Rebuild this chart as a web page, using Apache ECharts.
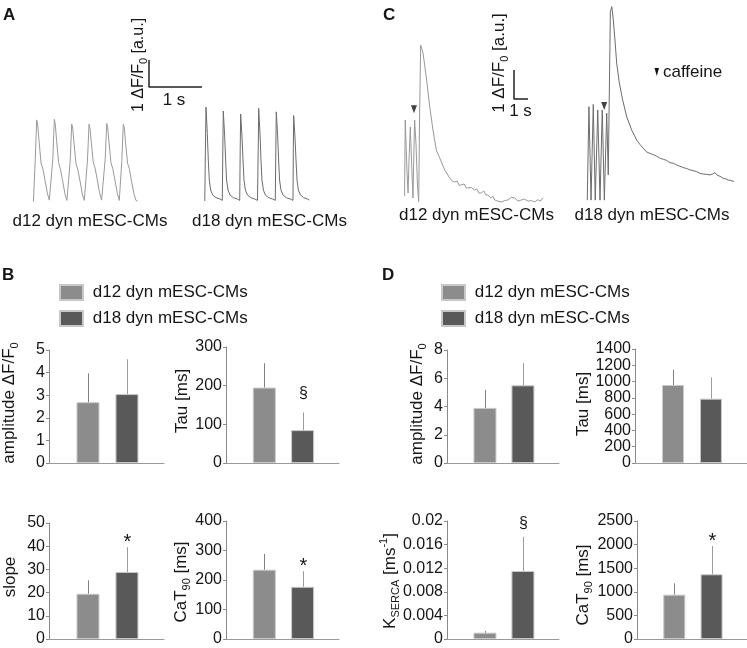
<!DOCTYPE html>
<html><head><meta charset="utf-8">
<script src="https://cdn.jsdelivr.net/npm/echarts@6/dist/echarts.min.js"></script>
<style>html,body{margin:0;padding:0;background:#fff}#c{width:747px;height:648px}</style>
</head><body><div id="c"></div>
<script>
// ---------------- DATA ----------------
const groups = ['d12 dyn mESC-CMs', 'd18 dyn mESC-CMs'];

// Panel B (mean, SD)
const bAmpMean = [2.69, 3.05],   bAmpSD = [1.28, 1.54];
const bTauMean = [195, 85],      bTauSD = [63, 46];
const bSlopeMean = [19.5, 28.9], bSlopeSD = [5.8, 10.7];
const bCaT90Mean = [235, 177],   bCaT90SD = [53, 53];
// Panel D (mean, SD)
const dAmpMean = [3.9, 5.5],        dAmpSD = [1.28, 1.56];
const dTauMean = [958, 790],        dTauSD = [188, 261];
const dKMean = [0.00107, 0.01153],  dKSD = [0.0003, 0.0058];
const dCaT90Mean = [939, 1371],     dCaT90SD = [241, 599];

// significance markers
const bTauSig = ['', '§'], bSlopeSig = ['', '*'], bCaT90Sig = ['', '*'];
const dKSig = ['', '§'], dCaT90Sig = ['', '*'];

// y-axis ticks: [min, max, interval]
const bAmpTicks = [0, 5, 1], bTauTicks = [0, 300, 100], bSlopeTicks = [0, 50, 10], bCaT90Ticks = [0, 400, 100];
const dAmpTicks = [0, 8, 2], dTauTicks = [0, 1400, 200], dKTicks = [0, 0.02, 0.004], dCaT90Ticks = [0, 2500, 500];

// Traces: [time (s), dF/F0]
const traceA_d12 = [
[0.008,0.01],[0.042,1.56],[0.070,3.04],[0.089,2.85],[0.113,2.30],[0.151,1.44],[0.183,1.26],[0.226,0.81],[0.270,0.33],[0.308,0.07],[0.340,0.02],
[0.374,1.60],[0.402,3.06],[0.421,2.87],[0.445,2.28],[0.483,1.46],[0.515,1.24],[0.558,0.80],[0.602,0.31],[0.640,0.06],[0.672,0.02],
[0.702,1.52],[0.730,2.89],[0.749,2.74],[0.774,2.19],[0.811,1.42],[0.843,1.22],[0.887,0.78],[0.930,0.30],[0.968,0.06],[1.000,0.02],
[1.028,1.55],[1.057,2.88],[1.075,2.73],[1.100,2.20],[1.138,1.45],[1.170,1.27],[1.213,0.82],[1.257,0.34],[1.294,0.07],[1.326,0.02],
[1.362,1.58],[1.391,2.91],[1.409,2.76],[1.434,2.22],[1.472,1.44],[1.504,1.25],[1.547,0.80],[1.591,0.32],[1.628,0.06],[1.660,0.02],
[1.675,1.50],[1.704,2.88],[1.723,2.74],[1.747,2.19],[1.785,1.43],[1.817,1.24],[1.857,0.79],[1.904,0.31],[1.942,0.06],[1.974,0.03]
];
const traceA_d18 = [
[0.015,0.04],[0.026,1.93],[0.038,3.51],[0.062,2.54],[0.081,1.56],[0.100,0.81],[0.126,0.44],[0.164,0.26],[0.226,0.16],[0.302,0.11],[0.345,0.06],
[0.355,1.93],[0.364,3.37],[0.389,2.48],[0.408,1.56],[0.426,0.81],[0.453,0.44],[0.491,0.26],[0.553,0.16],[0.628,0.11],[0.674,0.06],
[0.683,1.93],[0.692,3.26],[0.717,2.41],[0.736,1.56],[0.755,0.81],[0.781,0.44],[0.819,0.26],[0.881,0.16],[0.957,0.11],[1.009,0.06],
[1.023,1.93],[1.032,3.47],[1.057,2.52],[1.075,1.56],[1.094,0.81],[1.121,0.44],[1.158,0.26],[1.221,0.16],[1.296,0.11],[1.345,0.06],
[1.355,1.93],[1.364,3.34],[1.389,2.48],[1.408,1.56],[1.426,0.81],[1.453,0.44],[1.491,0.26],[1.553,0.16],[1.628,0.11],[1.679,0.06],
[1.685,1.93],[1.692,3.20],[1.717,2.37],[1.736,1.56],[1.755,0.81],[1.781,0.44],[1.819,0.26],[1.881,0.16],[1.957,0.11],[1.987,0.07]
];
const traceC_d12 = [
[0.04,0.21],[0.09,2.83],[0.21,1.10],[0.29,0.31],[0.36,1.45],[0.45,2.59],[0.55,1.28],[0.64,0.14],[0.71,1.79],[0.76,2.83],[0.86,1.97],[0.96,0.59],
[1.05,0.02],[1.11,2.83],[1.19,5.41],[1.36,5.14],[1.59,4.31],[1.84,3.28],[2.07,2.48],[2.31,1.79],[2.55,1.52],[2.91,1.10],[3.05,1.00],[3.26,0.83],
[3.45,0.72],[3.62,0.69],[3.80,0.72],[3.95,0.57],[4.09,0.59],[4.30,0.62],[4.45,0.48],[4.57,0.52],[4.80,0.50],[5.05,0.41],[5.20,0.45],[5.35,0.31],
[5.52,0.31],[5.70,0.38],[5.85,0.24],[6.00,0.24],[6.20,0.14],[6.35,0.20],[6.48,0.07],[6.70,0.03],[6.95,0.00],[7.20,0.05],[7.43,0.07],[7.65,0.16],
[7.91,0.14],[8.15,0.03],[8.38,0.07],[8.60,0.10],[8.86,0.03],[9.10,0.05],[9.34,0.00],[9.55,0.08],[9.75,0.03],[9.93,0.14]
];
const traceC_d18 = [
[0.09,0.03],[0.21,3.25],[0.36,0.03],[0.52,3.33],[0.66,0.03],[0.84,3.14],[1.00,0.03],[1.16,3.14],[1.31,0.03],[1.48,3.03],[1.59,0.90],[1.64,2.79],
[1.74,6.52],[1.84,6.70],[1.89,6.52],[1.95,6.24],[2.07,5.55],[2.19,4.76],[2.38,4.07],[2.62,3.48],[2.91,2.90],[3.26,2.45],[3.62,2.10],[3.85,1.95],
[4.09,1.82],[4.30,1.70],[4.57,1.64],[4.80,1.60],[5.05,1.55],[5.30,1.47],[5.52,1.44],[5.75,1.40],[6.00,1.32],[6.25,1.30],[6.48,1.24],[6.70,1.20],
[6.95,1.15],[7.20,1.12],[7.43,1.07],[7.65,1.05],[7.91,1.01],[8.15,0.95],[8.38,0.93],[8.60,0.92],[8.86,0.90],[9.05,0.93],[9.21,0.98],[9.35,0.90],
[9.45,0.86],[9.65,0.83],[9.81,0.78],[10.00,0.76],[10.16,0.72],[10.35,0.71],[10.57,0.67]
];
// caffeine application markers [time, level]
const caffeineC_d12 = [[0.71, 3.2]];
const caffeineC_d18 = [[1.30, 3.28]];
// scale bars: 1 s x 1 dF/F0
const scaleBar = [[0, 1], [0, 0], [1, 0]];

// ---------------- STYLE / LAYOUT ----------------
const FONT = '"Liberation Sans", Arial, Helvetica, sans-serif';
const TXT = '#161616';
const BAR_COLORS = ['#8c8c8c', '#595959'];
const ERR_COLORS = ['#808080', '#9c9c9c'];
const X_MAX = 2.95;
const A_PX_S = 53, A_PX_U = 27;
const C_PX_S = 14, C_PX_U = 29;

const grids = [], xAxes = [], yAxes = [], series = [];

function addTraceGrid(left, baseY, pxS, pxU, xMax, yMax) {
  const idx = grids.length;
  grids.push({left: left, top: baseY - yMax * pxU, width: xMax * pxS, height: yMax * pxU, outerBoundsMode: 'none', containLabel: false});
  xAxes.push({gridIndex: idx, type: 'value', min: 0, max: xMax, show: false});
  yAxes.push({gridIndex: idx, type: 'value', min: 0, max: yMax, show: false});
  return idx;
}
function addLine(idx, data, color, w) {
  series.push({type: 'line', xAxisIndex: idx, yAxisIndex: idx, data: data, symbol: 'none', showSymbol: false,
    clip: false, silent: true, lineStyle: {color: color, width: w || 1}, z: 3});
}
function addArrow(idx, data) {
  series.push({type: 'scatter', xAxisIndex: idx, yAxisIndex: idx, data: data, symbol: 'triangle', symbolRotate: 180,
    symbolSize: [6, 8], itemStyle: {color: '#111'}, silent: true, clip: false, z: 4});
}

function addBarChart(cfg) {
  const idx = grids.length;
  const [l, t, w, h] = cfg.rect;
  grids.push({left: l, top: t, width: w, height: h, outerBoundsMode: 'none', containLabel: false});
  xAxes.push({gridIndex: idx, type: 'value', min: 0, max: X_MAX,
    axisLine: {show: true, onZero: false, lineStyle: {color: '#9a9a9a', width: 1}},
    axisTick: {show: false}, axisLabel: {show: false}, splitLine: {show: false}});
  yAxes.push({gridIndex: idx, type: 'value', min: cfg.ticks[0], max: cfg.ticks[1], interval: cfg.ticks[2],
    axisLine: {show: true, lineStyle: {color: '#8a8a8a', width: 1}},
    axisTick: {show: true, length: 3, lineStyle: {color: '#8a8a8a'}},
    axisLabel: {fontSize: 16, color: TXT, margin: 4, fontFamily: FONT,
      formatter: function (v) { return String(+(+v).toFixed(6)); }},
    splitLine: {show: false}});
  groups.forEach(function (g, k) {
    series.push({type: 'bar', name: g, xAxisIndex: idx, yAxisIndex: idx, barWidth: cfg.bw, barGap: '-100%',
      data: [[k + 1, cfg.mean[k]]], silent: true,
      itemStyle: {color: BAR_COLORS[k], borderColor: '#c8c8c8', borderWidth: 1}});
  });
  const sig = cfg.sig;
  series.push({type: 'custom', xAxisIndex: idx, yAxisIndex: idx, silent: true, z: 5,
    encode: {x: 0, y: [1, 2]},
    data: cfg.mean.map(function (m, k) { return [k + 1, m, m + cfg.sd[k]]; }),
    renderItem: function (params, api) {
      const k = params.dataIndex;
      const p0 = api.coord([api.value(0), api.value(1)]);
      const p1 = api.coord([api.value(0), api.value(2)]);
      const x = Math.round(p0[0]) + 0.5;
      const children = [{type: 'line', shape: {x1: x, y1: p0[1], x2: x, y2: p1[1]},
        style: {stroke: ERR_COLORS[k], lineWidth: 1}}];
      if (sig && sig[k]) {
        const isStar = sig[k] === '*';
        children.push({type: 'text', x: x, y: p1[1] - cfg.sigOff,
          style: {text: sig[k], fontSize: isStar ? 20 : 16, fontFamily: FONT, fill: TXT,
            align: 'center', verticalAlign: 'middle', textAlign: 'center', textVerticalAlign: 'middle'}});
      }
      return {type: 'group', children: children};
    }});
}

// traces
const gA1 = addTraceGrid(33, 202, A_PX_S, A_PX_U, 2, 4);
const gA2 = addTraceGrid(204, 202, A_PX_S, A_PX_U, 2, 4);
const gAs = addTraceGrid(149, 87, A_PX_S, A_PX_U, 1, 1);
const gC1 = addTraceGrid(404, 202, C_PX_S, C_PX_U, 10, 6);
const gC2 = addTraceGrid(586, 201, C_PX_S, C_PX_U, 11, 6);
const gCs = addTraceGrid(514, 99, C_PX_S, C_PX_U, 1, 1);
addLine(gA1, traceA_d12, '#9a9a9a');
addLine(gA2, traceA_d18, '#6c6c6c');
addLine(gAs, scaleBar, '#222', 1.5);
addLine(gC1, traceC_d12, '#999999');
addLine(gC2, traceC_d18, '#6c6c6c');
addLine(gCs, scaleBar, '#222', 1.5);
addArrow(gC1, caffeineC_d12);
addArrow(gC2, caffeineC_d18);

// bar charts
addBarChart({rect: [49, 350, 115, 113], ticks: bAmpTicks, mean: bAmpMean, sd: bAmpSD, sig: null, bw: 23, sigOff: 0});
addBarChart({rect: [226, 347, 113, 116], ticks: bTauTicks, mean: bTauMean, sd: bTauSD, sig: bTauSig, bw: 23, sigOff: 19});
addBarChart({rect: [49, 523, 115, 116], ticks: bSlopeTicks, mean: bSlopeMean, sd: bSlopeSD, sig: bSlopeSig, bw: 23, sigOff: 5});
addBarChart({rect: [226, 521, 113, 118], ticks: bCaT90Ticks, mean: bCaT90Mean, sd: bCaT90SD, sig: bCaT90Sig, bw: 23, sigOff: 5});
addBarChart({rect: [447, 350, 112, 113], ticks: dAmpTicks, mean: dAmpMean, sd: dAmpSD, sig: null, bw: 23, sigOff: 0});
addBarChart({rect: [635, 349, 112, 114], ticks: dTauTicks, mean: dTauMean, sd: dTauSD, sig: null, bw: 22, sigOff: 0});
addBarChart({rect: [447, 521, 112, 118], ticks: dKTicks, mean: dKMean, sd: dKSD, sig: dKSig, bw: 23, sigOff: 13});
addBarChart({rect: [637, 521, 110, 118], ticks: dCaT90Ticks, mean: dCaT90Mean, sd: dCaT90SD, sig: dCaT90Sig, bw: 22, sigOff: 5});

// graphic texts
const RICH = {
  sub: {fontSize: 11, fontFamily: FONT, fill: TXT, verticalAlign: 'bottom', lineHeight: 11},
  sup: {fontSize: 11, fontFamily: FONT, fill: TXT, verticalAlign: 'top', lineHeight: 11}
};
function txt(x, y, text, fs, opts) {
  opts = opts || {};
  return {type: 'text', x: x, y: y, rotation: opts.rot ? Math.PI / 2 : 0, silent: true, z: 10,
    style: {text: text, fontSize: fs, fontFamily: FONT, fontWeight: opts.bold ? 'bold' : 'normal', fill: TXT,
      align: opts.align || 'center', verticalAlign: opts.va || 'middle',
      textAlign: opts.align || 'center', textVerticalAlign: opts.va || 'middle',
      lineHeight: fs + 6, rich: RICH}};
}
const elements = [
  txt(3, 4, 'A', 17, {bold: true, align: 'left', va: 'top'}),
  txt(383, 4, 'C', 17, {bold: true, align: 'left', va: 'top'}),
  txt(2, 264, 'B', 17, {bold: true, align: 'left', va: 'top'}),
  txt(382, 264, 'D', 17, {bold: true, align: 'left', va: 'top'}),
  // trace labels
  txt(90, 221, groups[0], 17), txt(269.5, 221, groups[1], 17),
  txt(476.5, 215, groups[0], 17), txt(652, 215, groups[1], 17),
  // scale bar labels
  txt(138.5, 65, '1 ΔF/F{sub|0} [a.u.]', 16, {rot: true}),
  txt(174, 100, '1 s', 17),
  txt(499, 63, '1 ΔF/F{sub|0} [a.u.]', 17, {rot: true}),
  txt(520.5, 111, '1 s', 17),
  // caffeine legend
  {type: 'polygon', silent: true, shape: {points: [[654.5, 68], [659, 68], [656.8, 76]]}, style: {fill: '#111'}},
  txt(663, 72, 'caffeine', 17, {align: 'left'}),
  // axis names
  txt(9, 403, 'amplitude ΔF/F{sub|0}', 17, {rot: true}),
  txt(182, 401, 'Tau [ms]', 17, {rot: true}),
  txt(10, 577, 'slope', 17, {rot: true}),
  txt(181, 582, 'CaT{sub|90} [ms]', 17, {rot: true}),
  txt(417, 404, 'amplitude ΔF/F{sub|0}', 17, {rot: true}),
  txt(583.5, 404, 'Tau [ms]', 17, {rot: true}),
  txt(390, 581, 'K{sub|SERCA} [ms{sup|-1}]', 17, {rot: true}),
  txt(583, 585, 'CaT{sub|90} [ms]', 17, {rot: true})
];

const legendBase = {data: groups, orient: 'vertical', icon: 'rect', itemWidth: 23, itemHeight: 15, itemGap: 9,
  selectedMode: false, padding: 0, formatter: function (n) { return ' ' + n; },
  textStyle: {fontSize: 17, color: TXT, fontFamily: FONT}};

const option = {
  animation: false,
  backgroundColor: '#ffffff',
  textStyle: {fontFamily: FONT},
  tooltip: {show: false},
  legend: [Object.assign({left: 59, top: 284}, legendBase), Object.assign({left: 441, top: 284}, legendBase)],
  grid: grids, xAxis: xAxes, yAxis: yAxes, series: series,
  graphic: {elements: elements}
};
const chart = echarts.init(document.getElementById('c'), null, {renderer: 'canvas'});
chart.setOption(option);
</script></body></html>
